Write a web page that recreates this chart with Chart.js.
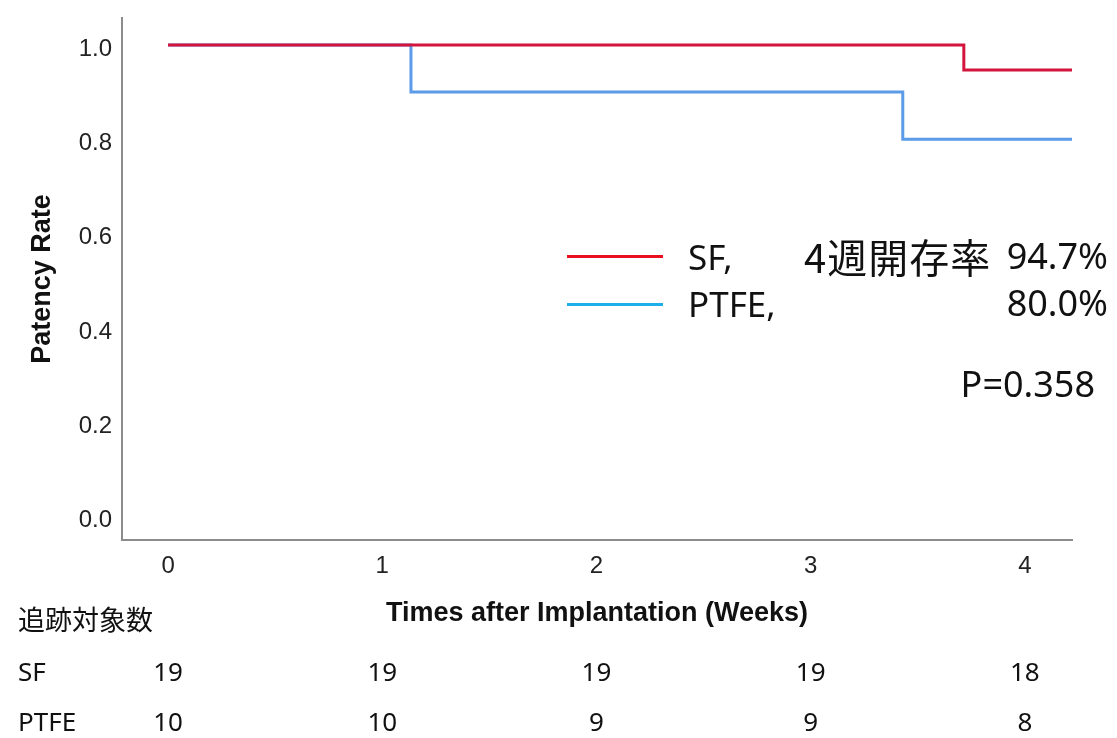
<!DOCTYPE html>
<html><head><meta charset="utf-8">
<script src="https://cdn.jsdelivr.net/npm/chart.js@4.4.1/dist/chart.umd.min.js"></script>
<style>
html,body{margin:0;padding:0;background:#fff;}
#wrap{position:relative;width:1117px;height:738px;overflow:hidden;}
#c{position:absolute;left:0;top:0;}
.t{position:absolute;white-space:nowrap;color:#111;line-height:1;}
.ln{position:absolute;height:3px;}
</style></head><body>
<div id="wrap"><canvas id="c" width="1117" height="738"></canvas><div id="ov"></div></div>
<script>
// ---- data ----
const weekTicks = [0, 1, 2, 3, 4];
const yTicks = [0, 0.2, 0.4, 0.6, 0.8, 1.0];
const sfTimes = [0, 3.715, 4.22];
const sfRates = [1.0, 0.947, 0.947];
const ptfeTimes = [0, 1.134, 3.43, 4.22];
const ptfeRates = [1.0, 0.9, 0.8, 0.8];
const groupNames = ['SF', 'PTFE'];
const patencyAt4w = ['94.7%', '80.0%'];
const pValueText = 'P=0.358';
const sfAtRisk = [19, 19, 19, 19, 18];
const ptfeAtRisk = [10, 10, 9, 9, 8];
const atRiskTitle = '追跡対象数';
const legendMid = '4週開存率';

const SF_COLOR = '#d3143c';
const PTFE_COLOR = '#5b9be8';

const toPts = (xs, ys) => xs.map((x, i) => ({x: x, y: ys[i]}));

const chart = new Chart(document.getElementById('c'), {
  type: 'line',
  data: {
    datasets: [
      {label: groupNames[0], data: toPts(sfTimes, sfRates), borderColor: SF_COLOR, borderWidth: 3, stepped: true, pointRadius: 0, fill: false},
      {label: groupNames[1], data: toPts(ptfeTimes, ptfeRates), borderColor: PTFE_COLOR, borderWidth: 3, stepped: true, pointRadius: 0, fill: false}
    ]
  },
  options: {
    responsive: false, animation: false, devicePixelRatio: 1,
    layout: {padding: {left: 0, top: 18, right: 45, bottom: 108}},
    plugins: {legend: {display: false}, tooltip: {enabled: false}},
    scales: {
      x: {
        type: 'linear', min: -0.215, max: 4.22,
        afterBuildTicks: s => { s.ticks = weekTicks.map(v => ({value: v})); },
        afterFit: s => { s.height = 90; s.paddingLeft = 0; s.paddingRight = 0; },
        grid: {drawOnChartArea: false, drawTicks: false},
        border: {display: true, color: '#8c8c8c', width: 2},
        ticks: {padding: 12, color: '#222', font: {family: 'Liberation Sans', size: 24}, maxRotation: 0},
        title: {display: true, text: 'Times after Implantation (Weeks)', color: '#111',
                font: {family: 'Liberation Sans', size: 27, weight: 'bold'}, padding: {top: 0, bottom: 0}}
      },
      y: {
        type: 'linear', min: -0.049, max: 1.057,
        afterBuildTicks: s => { s.ticks = yTicks.map(v => ({value: v})); },
        afterFit: s => { s.width = 122; s.paddingTop = 0; s.paddingBottom = 0; },
        grid: {drawOnChartArea: false, drawTicks: false},
        border: {display: true, color: '#8c8c8c', width: 2},
        ticks: {padding: 10, labelOffset: 4, color: '#222', font: {family: 'Liberation Sans', size: 24},
                callback: v => Number(v).toFixed(1)},
        title: {display: true, text: 'Patency Rate', color: '#111',
                font: {family: 'Liberation Sans', size: 27, weight: 'bold'}, padding: {top: 26, bottom: 0}}
      }
    }
  }
});

// ---- overlay text (real HTML text) ----
const ov = document.getElementById('ov');
function place(text, x, baseline, size, family, align, asc, spacing) {
  const d = document.createElement('div');
  d.className = 't';
  d.textContent = text;
  d.style.fontFamily = family;
  d.style.fontSize = size + 'px';
  if (spacing) d.style.letterSpacing = spacing + 'px';
  d.style.top = (baseline - asc * size) + 'px';
  if (align === 'right') { d.style.right = (1117 - x) + 'px'; }
  else if (align === 'center') { d.style.left = x + 'px'; d.style.transform = 'translateX(-50%)'; }
  else { d.style.left = x + 'px'; }
  ov.appendChild(d);
  return d;
}
const NS = '"Noto Sans", sans-serif';
const CJK = '"Noto Sans CJK JP", sans-serif';
const NS_ASC = 0.888, CJK_ASC = 0.936;
function line(x, y, w, color) {
  const d = document.createElement('div');
  d.className = 'ln';
  d.style.left = x + 'px'; d.style.top = (y - 1.5) + 'px'; d.style.width = w + 'px';
  d.style.background = color;
  ov.appendChild(d);
}
// legend
line(567, 256, 96, '#e8101e');
line(567, 304, 96, '#1eaeea');
place(groupNames[0] + ',', 688, 270, 35, NS, 'left', NS_ASC);
place(legendMid, 804, 273, 40, CJK, 'left', CJK_ASC, 1);
place(patencyAt4w[0], 1108, 270, 36, NS, 'right', NS_ASC);
place(groupNames[1] + ',', 688, 317, 35, NS, 'left', NS_ASC);
place(patencyAt4w[1], 1108, 317, 36, NS, 'right', NS_ASC);
place(pValueText, 1095, 398, 36, NS, 'right', NS_ASC);

// at-risk table
const xs = chart.scales.x;
place(atRiskTitle, 18, 630, 27, CJK, 'left', CJK_ASC);
place(groupNames[0], 18, 681, 26, NS, 'left', NS_ASC);
place(groupNames[1], 18, 731, 26, NS, 'left', NS_ASC);
weekTicks.forEach((w, i) => {
  const px = xs.getPixelForValue(w);
  place(String(sfAtRisk[i]), px, 681, 26, NS, 'center', NS_ASC);
  place(String(ptfeAtRisk[i]), px, 731, 26, NS, 'center', NS_ASC);
});
</script>
</body></html>
